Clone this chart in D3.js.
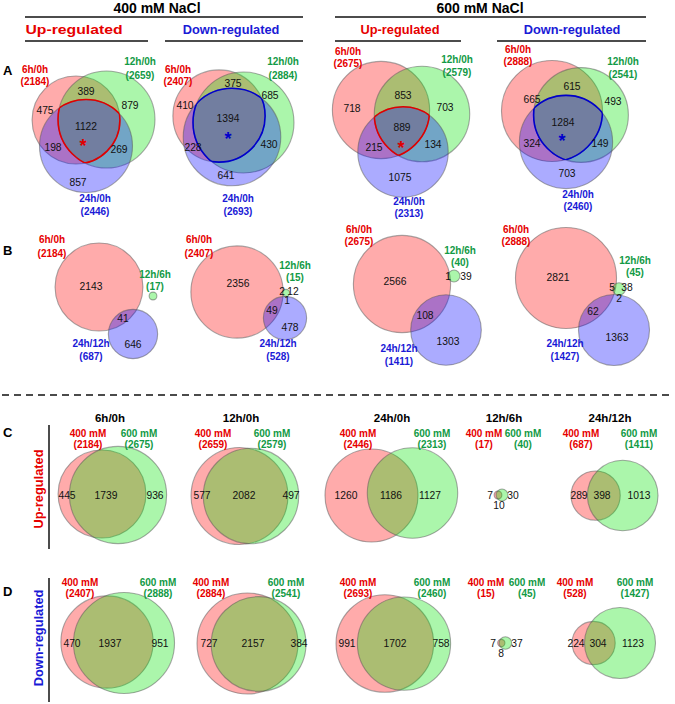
<!DOCTYPE html>
<html><head><meta charset="utf-8">
<script src="https://cdn.jsdelivr.net/npm/d3@7"></script>
<style>body{margin:0;background:#fff} svg text{font-family:Arial,"Liberation Sans",sans-serif}</style>
</head><body><svg id="c" width="675" height="704"></svg>
<script>
// ---------------- DATA ----------------
const conditions = ["400 mM NaCl", "600 mM NaCl"];
const directions = ["Up-regulated", "Down-regulated", "Up-regulated", "Down-regulated"];
const setNamesA = ["6h/0h", "12h/0h", "24h/0h"];
const setNamesB = ["6h/0h", "12h/6h", "24h/12h"];
const concLabels = ["400 mM", "600 mM"];
const comparisonsCD = ["6h/0h", "12h/0h", "24h/0h", "12h/6h", "24h/12h"];
const panelLetters = ["A", "B", "C", "D"];
const sideLabels = ["Up-regulated", "Down-regulated"];

// Panel A totals [6h/0h, 12h/0h, 24h/0h] for 400 up, 400 down, 600 up, 600 down
const totalsA = [[2184, 2659, 2446], [2407, 2884, 2693], [2675, 2579, 2313], [2888, 2541, 2460]];
// Panel A regions: [only 6h, 6h&12h, only 12h, all three, 6h&24h, 12h&24h, only 24h]
const regionsA = [[475, 389, 879, 1122, 198, 269, 857], [410, 375, 685, 1394, 228, 430, 641],
                  [718, 853, 703, 889, 215, 134, 1075], [665, 615, 493, 1284, 324, 149, 703]];
// Panel B totals [6h/0h, 12h/6h, 24h/12h]
const totalsB = [[2184, 17, 687], [2407, 15, 528], [2675, 40, 1411], [2888, 45, 1427]];
// Panel B region counts shown
const regionsB1 = [2143, 41, 646];
const regionsB2 = [2356, 2, 12, 1, 49, 478];
const regionsB3 = [2566, 1, 39, 108, 1303];
const regionsB4 = [2821, 5, 38, 2, 62, 1363];
// Panel C (up) and D (down): totals per comparison
const up400 = [2184, 2659, 2446, 17, 687];
const up600 = [2675, 2579, 2313, 40, 1411];
const down400 = [2407, 2884, 2693, 15, 528];
const down600 = [2888, 2541, 2460, 45, 1427];
// [only 400, both, only 600]
const regionsC = [[445, 1739, 936], [577, 2082, 497], [1260, 1186, 1127], [7, 10, 30], [289, 398, 1013]];
const regionsD = [[470, 1937, 951], [727, 2157, 384], [991, 1702, 758], [7, 8, 37], [224, 304, 1123]];

// ---------------- STYLE / LAYOUT ----------------
const svg = d3.select("#c");
const defs = svg.append("defs");
const r = d3.scaleSqrt().domain([0, 2500]).range([0, 47]);
const fillCols = ["#ff0000", "#00e400", "#0000ff"];
const TR = "#e60000", TG = "#129a45", TB = "#1a1ad6";
const NUM = 10.3;

function txt(g, x, y, s, opt = {}) {
  const t = g.append("text").attr("x", x).attr("y", y).text(s)
    .attr("text-anchor", opt.anchor || "middle")
    .attr("font-size", opt.size || 10)
    .attr("font-weight", opt.weight || "bold")
    .attr("fill", opt.color || "#000");
  if (opt.dy) t.attr("dy", opt.dy);
  if (opt.len) t.attr("textLength", opt.len).attr("lengthAdjust", "spacingAndGlyphs");
  return t;
}
function num(g, x, y, v) {
  return txt(g, x, y, v, {size: NUM, weight: "normal", color: "#111", dy: "0.36em"});
}
function drawCircles(g, specs) {
  g.selectAll("circle.set").data(specs).join("circle").attr("class", "set")
    .attr("cx", d => d.cx).attr("cy", d => d.cy).attr("r", d => r(d.n))
    .attr("fill", d => d.color).attr("fill-opacity", 0.33)
    .attr("stroke", "#555").attr("stroke-opacity", 0.5).attr("stroke-width", 1.1);
}
function tripleOutline(g, specs, id, color) {
  specs.forEach((d, i) => {
    defs.append("clipPath").attr("id", id + "c" + i).append("circle")
      .attr("cx", d.cx).attr("cy", d.cy).attr("r", r(d.n));
  });
  [0, 1, 2].forEach(i => {
    const o = [0, 1, 2].filter(j => j !== i);
    g.append("g").attr("clip-path", `url(#${id}c${o[0]})`)
      .append("g").attr("clip-path", `url(#${id}c${o[1]})`)
      .append("circle").attr("cx", specs[i].cx).attr("cy", specs[i].cy).attr("r", r(specs[i].n))
      .attr("fill", "none").attr("stroke", color).attr("stroke-width", 1.6);
  });
}
function line(g, x1, y1, x2, y2, w = 1.5) {
  g.append("line").attr("x1", x1).attr("y1", y1).attr("x2", x2).attr("y2", y2)
    .attr("stroke", "#111").attr("stroke-width", w);
}

// ---------------- HEADERS ----------------
const H = svg.append("g");
const condPos = [{x: 157, l: [25, 303]}, {x: 480, l: [335, 646]}];
conditions.forEach((c, i) => {
  txt(H, condPos[i].x, 13, c, {size: 14});
  line(H, condPos[i].l[0], 17, condPos[i].l[1], 17);
});
const dirPos = [{x: 74, l: [25, 148], len: 97}, {x: 231, l: [165, 303]}, {x: 400, l: [335, 461]}, {x: 572, l: [497, 646]}];
directions.forEach((d, i) => {
  txt(H, dirPos[i].x, 34, d, {size: 12.8, color: i % 2 ? TB : TR, len: dirPos[i].len});
  line(H, dirPos[i].l[0], 41, dirPos[i].l[1], 41);
});
const letterY = [75, 255, 437, 596];
panelLetters.forEach((L, i) => txt(H, 3, letterY[i], L, {size: 13, anchor: "start"}));

// ---------------- PANEL A ----------------
const layoutA = [
  {c: [[76, 120], [106.5, 119.5], [86, 146]],
   lab: [[35, 73, 85], [140, 65, 79], [95, 202, 215]],
   nums: [[45, 110], [86, 91], [130, 105], [86, 126], [53, 147], [119, 149], [78, 182]], star: [83, 142]},
  {c: [[219, 116], [243.5, 122.5], [232, 137]],
   lab: [[178, 73, 85], [283, 65, 79], [238, 202, 215]],
   nums: [[185, 105], [233, 83], [270, 95], [228, 118], [193, 147], [269, 144], [226, 175]], star: [228, 135]},
  {c: [[381, 110], [422, 114], [403, 152]],
   lab: [[348, 55, 67], [457, 63, 76], [409, 205, 217]],
   nums: [[352, 108], [403, 95], [445, 107], [402, 127], [374, 147], [433, 144], [400, 177]], star: [401, 144]},
  {c: [[552, 111], [581, 115], [566, 142]],
   lab: [[518, 53, 65], [623, 65, 78], [578, 198, 210]],
   nums: [[532, 99], [572, 86], [613, 101], [563, 122], [532, 143], [600, 143], [567, 173]], star: [562, 137]}
];
const labCols = [TR, TG, TB];
totalsA.forEach((tot, p) => {
  const L = layoutA[p];
  const g = svg.append("g");
  const specs = tot.map((n, i) => ({cx: L.c[i][0], cy: L.c[i][1], n, color: fillCols[i]}));
  drawCircles(g, specs);
  const oc = p % 2 ? "#0000cc" : "#e00000";
  tripleOutline(g, specs, "A" + p, oc);
  regionsA[p].forEach((v, k) => num(g, L.nums[k][0], L.nums[k][1], v));
  txt(g, L.star[0], L.star[1] + 10, "*", {size: 18, color: oc});
  tot.forEach((n, i) => {
    txt(g, L.lab[i][0], L.lab[i][1], setNamesA[i], {color: labCols[i]});
    txt(g, L.lab[i][0], L.lab[i][2], "(" + n + ")", {color: labCols[i]});
  });
});

// ---------------- PANEL B ----------------
const layoutB = [
  {c: [[99, 287], [153, 296], [133, 334]], lab: [[52, 243, 257], [155, 278, 290], [91, 347, 360]],
   vals: regionsB1, nums: [[91, 286], [123, 318], [133, 344]]},
  {c: [[237, 292], [286, 293], [285, 318]], lab: [[199, 243, 257], [295, 269, 281], [278, 347, 360]],
   vals: regionsB2, nums: [[238, 283], [282, 291], [293, 291], [287, 300], [272, 310], [290, 327]]},
  {c: [[402, 284], [454, 276], [446, 330]], lab: [[359, 233, 245], [460, 254, 266], [399, 352, 365]],
   vals: regionsB3, nums: [[395, 281], [448, 276], [466, 276], [425, 315], [448, 341]]},
  {c: [[566, 278], [619, 289], [614, 330]], lab: [[516, 233, 245], [635, 264, 276], [565, 347, 360]],
   vals: regionsB4, nums: [[558, 277], [612, 287], [627, 287], [619, 298], [593, 311], [617, 337]]}
];
totalsB.forEach((tot, p) => {
  const L = layoutB[p];
  const g = svg.append("g");
  const specs = tot.map((n, i) => ({cx: L.c[i][0], cy: L.c[i][1], n, color: fillCols[i]}));
  drawCircles(g, specs);
  L.vals.forEach((v, k) => num(g, L.nums[k][0], L.nums[k][1], v));
  tot.forEach((n, i) => {
    txt(g, L.lab[i][0], L.lab[i][1], setNamesB[i], {color: labCols[i]});
    txt(g, L.lab[i][0], L.lab[i][2], "(" + n + ")", {color: labCols[i]});
  });
});

// dashed separator
svg.append("line").attr("x1", 2).attr("x2", 672).attr("y1", 395).attr("y2", 395)
  .attr("stroke", "#111").attr("stroke-width", 1.5).attr("stroke-dasharray", "7,5");

// ---------------- PANELS C & D ----------------
const headX = [110, 241, 392, 504, 610];
comparisonsCD.forEach((c, i) => txt(svg, headX[i], 422, c, {size: 11.5}));

const layoutCD = [
  {lab400: [88, 213, 358, 484, 581], lab600: [139, 272, 432, 523, 639], ly: [437, 448],
   c400: [[102, 494], [239.5, 496], [371.5, 495.5], [498, 495], [595.6, 495.6]],
   c600: [[118, 495], [251, 496], [412.5, 493], [502, 495], [622.7, 495.5]],
   nums: [[[67, 495], [106, 495], [155, 495]], [[202, 495], [244, 495], [291, 495]], [[346, 495], [391, 495], [430, 495]],
          [[490, 495], [499, 505], [513, 495]], [[579, 495], [602, 495], [639, 495]]],
   side: [43, 489], vline: [425, 549]},
  {lab400: [80, 211, 358, 486, 575], lab600: [158, 286, 432, 527, 635], ly: [586, 597],
   c400: [[107, 642], [247.5, 643.5], [384.8, 643.5], [501.3, 643], [593.6, 643]],
   c600: [[124, 643], [258.6, 644], [404, 643.6], [505.4, 643], [620, 643]],
   nums: [[[72, 643], [110, 643], [160, 643]], [[209, 643], [253, 643], [299, 643]], [[347, 643], [395, 643], [441, 643]],
          [[493, 643], [501, 653], [517, 643]], [[576, 643], [598, 643], [633, 643]]],
   side: [43, 638], vline: [578, 702]}
];
const cdData = [{a: up400, b: up600, reg: regionsC, col: TR}, {a: down400, b: down600, reg: regionsD, col: TB}];
cdData.forEach((D, p) => {
  const L = layoutCD[p];
  const g = svg.append("g");
  line(g, 49, L.vline[0], 49, L.vline[1]);
  g.append("text").attr("transform", `translate(${L.side[0]},${L.side[1]}) rotate(-90)`)
    .attr("text-anchor", "middle").attr("font-size", 12.8).attr("font-weight", "bold")
    .attr("fill", D.col).text(sideLabels[p]);
  D.a.forEach((n, i) => {
    const gg = g.append("g");
    drawCircles(gg, [{cx: L.c400[i][0], cy: L.c400[i][1], n, color: fillCols[0]},
                     {cx: L.c600[i][0], cy: L.c600[i][1], n: D.b[i], color: fillCols[1]}]);
    D.reg[i].forEach((v, k) => num(gg, L.nums[i][k][0], L.nums[i][k][1], v));
    txt(gg, L.lab400[i], L.ly[0], concLabels[0], {color: TR});
    txt(gg, L.lab400[i], L.ly[1], "(" + n + ")", {color: TR});
    txt(gg, L.lab600[i], L.ly[0], concLabels[1], {color: TG});
    txt(gg, L.lab600[i], L.ly[1], "(" + D.b[i] + ")", {color: TG});
  });
});
</script></body></html>
